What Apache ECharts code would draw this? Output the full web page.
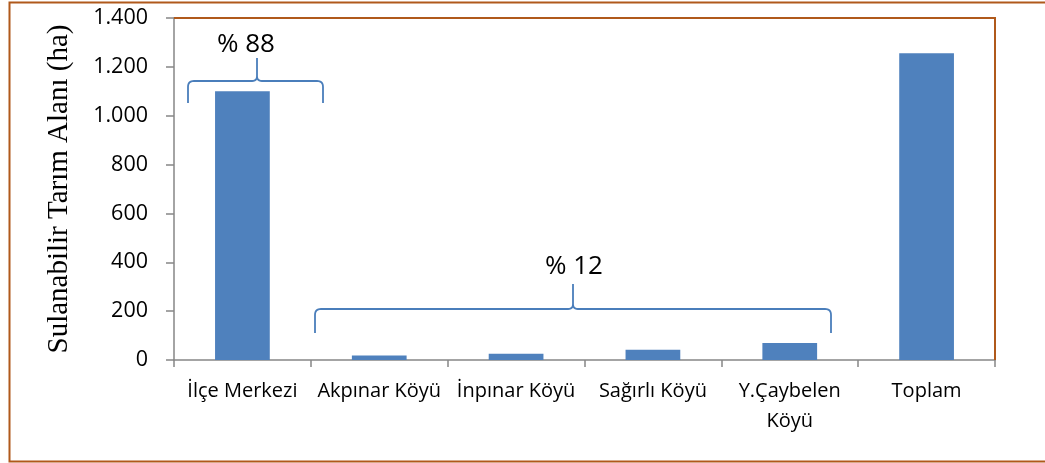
<!DOCTYPE html>
<html>
<head>
<meta charset="utf-8">
<script src="https://cdn.jsdelivr.net/npm/echarts@6/dist/echarts.min.js"></script>
<style>
  html, body { margin: 0; padding: 0; background: #ffffff; }
  #chart { width: 1045px; height: 463px; }
</style>
</head>
<body>
<div id="chart"></div>
<script>
// ---- data ----
const categories = ['İlçe Merkezi', 'Akpınar Köyü', 'İnpınar Köyü', 'Sağırlı Köyü', 'Y.Çaybelen\nKöyü', 'Toplam'];
const areaValues = [1100, 18, 26, 42, 70, 1256];
const yTicks = { min: 0, max: 1400, interval: 200 };
const axisTitle = 'Sulanabilir Tarım Alanı (ha)';
const annotationTexts = ['% 88', '% 12'];

// ---- styles ----
const BAR = '#4f81bd';
const BRACE = '#4a7ebb';
const AXIS = '#868686';
const BROWN = '#b0591b';
const FONT = '"Open Sans", "Noto Sans", sans-serif';

const grid = { left: 174, top: 18, right: 50, bottom: 103 };

function quad(p0, c, p1, n) {
  const pts = [];
  for (let i = 1; i <= n; i++) {
    const t = i / n, u = 1 - t;
    pts.push([u * u * p0[0] + 2 * u * t * c[0] + t * t * p1[0],
              u * u * p0[1] + 2 * u * t * c[1] + t * t * p1[1]]);
  }
  return pts;
}
function bracePoints(xL, xR, xT, yB, yH, yT) {
  const r = 6, c = 5;
  let pts = [[xL, yB], [xL, yH + r]];
  pts = pts.concat(quad([xL, yH + r], [xL, yH], [xL + r, yH], 8));
  pts.push([xT - c, yH]);
  pts = pts.concat(quad([xT - c, yH], [xT, yH], [xT, yH - c], 6));
  pts.push([xT, yT]);
  pts.push([xT, yH - c]);
  pts = pts.concat(quad([xT, yH - c], [xT, yH], [xT + c, yH], 6));
  pts.push([xR - r, yH]);
  pts = pts.concat(quad([xR - r, yH], [xR, yH], [xR, yH + r], 8));
  pts.push([xR, yB]);
  return pts;
}

const chart = echarts.init(document.getElementById('chart'), null, { renderer: 'canvas' });

const W = 1045, H = 463;
const plotRight = W - grid.right, plotBottom = H - grid.bottom;

const option = {
  animation: false,
  backgroundColor: '#ffffff',
  grid: { left: grid.left, top: grid.top, right: grid.right, bottom: grid.bottom, containLabel: false },
  xAxis: {
    type: 'category',
    data: categories,
    boundaryGap: true,
    axisLine: { show: true, lineStyle: { color: AXIS, width: 1.5 } },
    axisTick: { show: true, alignWithLabel: false, length: 7, lineStyle: { color: AXIS, width: 1.5 } },
    axisLabel: { color: '#000', fontFamily: FONT, fontSize: 20, margin: 16, lineHeight: 30, interval: 0 }
  },
  yAxis: {
    type: 'value',
    min: yTicks.min, max: yTicks.max, interval: yTicks.interval,
    name: axisTitle,
    nameLocation: 'middle',
    nameGap: 100,
    nameTextStyle: { fontFamily: '"Liberation Serif", "Times New Roman", serif', fontSize: 29, color: '#000' },
    axisLine: { show: true, lineStyle: { color: AXIS, width: 1.5 } },
    axisTick: { show: true, length: 8, lineStyle: { color: AXIS, width: 1.5 } },
    splitLine: { show: false },
    axisLabel: {
      color: '#000', fontFamily: FONT, fontSize: 21.5, margin: 26,
      formatter: v => String(v).replace(/\B(?=(\d{3})+(?!\d))/g, '.')
    }
  },
  series: [{
    type: 'bar',
    data: areaValues,
    barWidth: '40%',
    itemStyle: { color: BAR },
    silent: true
  }],
  graphic: [
    { type: 'rect', shape: { x: 9.5, y: 2.5, width: 1100, height: 459 },
      style: { fill: 'none', stroke: BROWN, lineWidth: 2 }, silent: true, z: 100 },
    { type: 'polyline', shape: { points: [[grid.left, grid.top], [plotRight, grid.top], [plotRight, plotBottom]] },
      style: { fill: 'none', stroke: BROWN, lineWidth: 2 }, silent: true, z: 100 },
    { type: 'polyline', shape: { points: bracePoints(188, 323, 257, 103, 81, 58) },
      style: { fill: 'none', stroke: BRACE, lineWidth: 1.8 }, silent: true, z: 100 },
    { type: 'polyline', shape: { points: bracePoints(315, 831, 573, 333, 309, 284) },
      style: { fill: 'none', stroke: BRACE, lineWidth: 1.8 }, silent: true, z: 100 },
    { type: 'text', x: 246, y: 45, silent: true, z: 100,
      style: { text: annotationTexts[0], fontFamily: FONT, fontSize: 26, fill: '#000', align: 'center', verticalAlign: 'middle' } },
    { type: 'text', x: 574, y: 267, silent: true, z: 100,
      style: { text: annotationTexts[1], fontFamily: FONT, fontSize: 26, fill: '#000', align: 'center', verticalAlign: 'middle' } }
  ]
};

chart.setOption(option);
</script>
</body>
</html>
